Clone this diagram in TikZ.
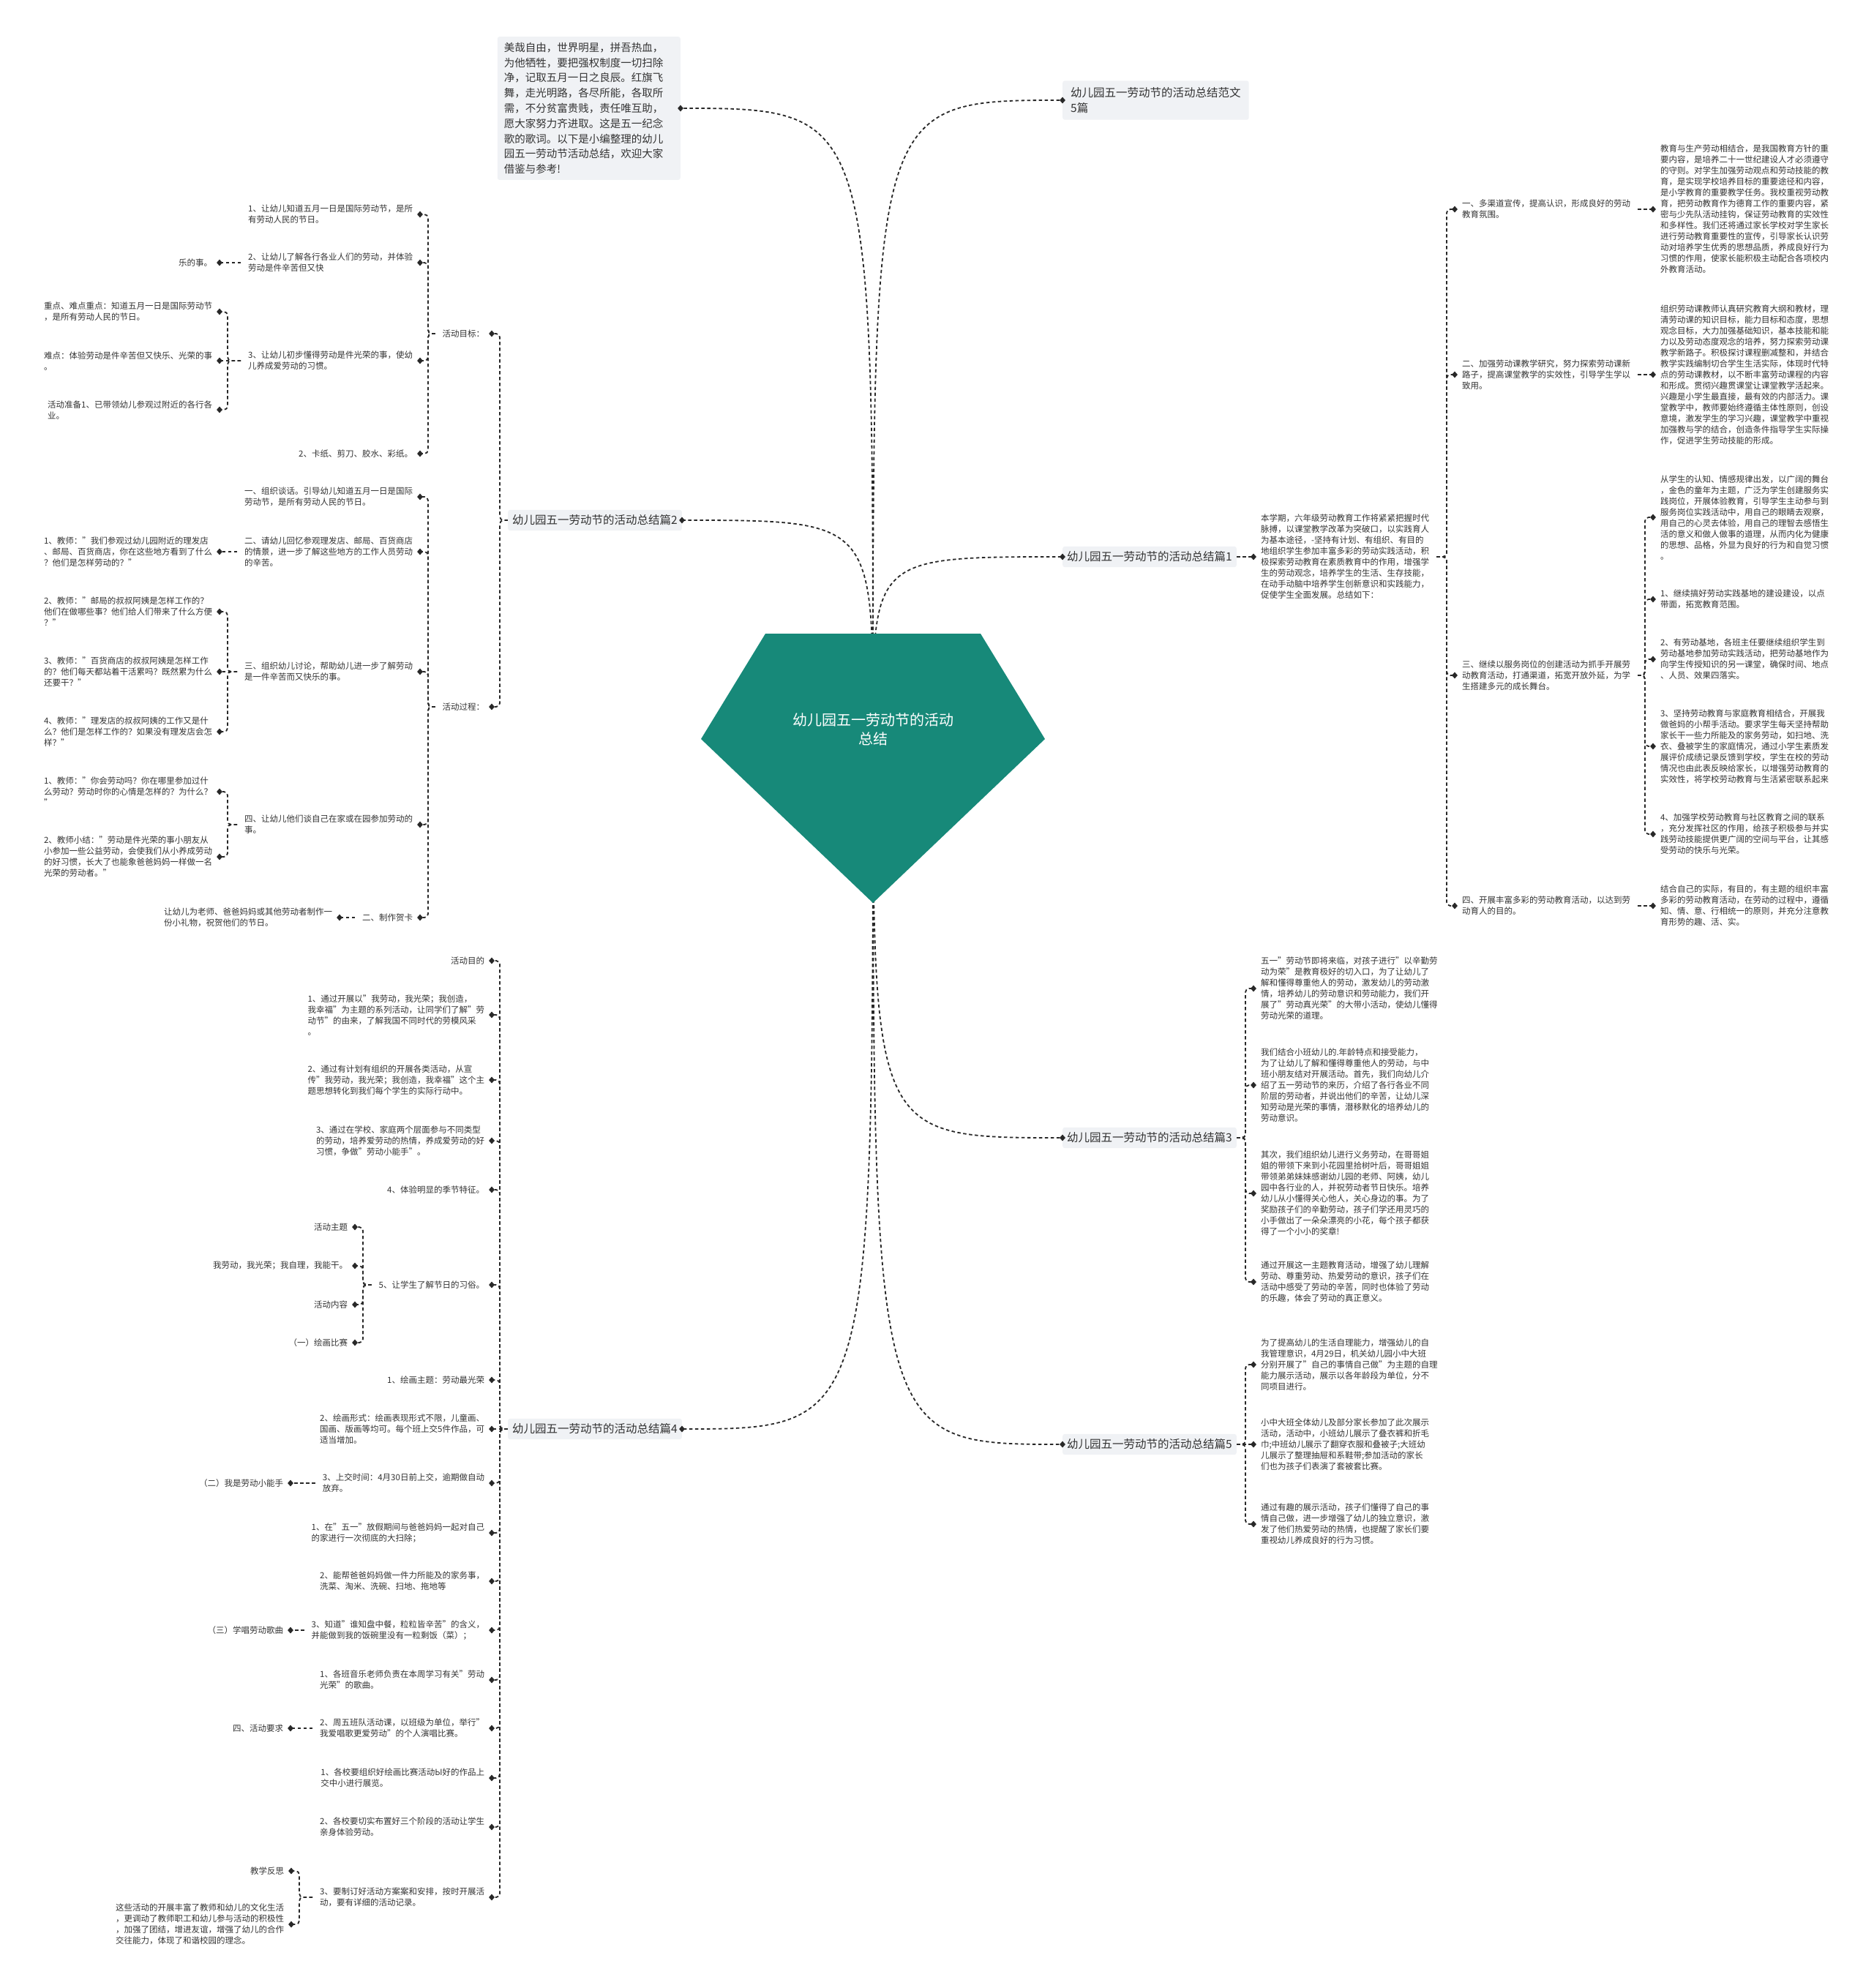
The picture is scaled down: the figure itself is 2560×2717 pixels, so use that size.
\documentclass[tikz,border=0pt]{standalone}
\usepackage{fontspec}
\setmainfont{Noto Sans CJK SC}
\usetikzlibrary{shapes.geometric,calc}
\definecolor{tc}{RGB}{51,51,51}
\definecolor{lc}{RGB}{40,40,40}
\definecolor{gem}{RGB}{23,137,121}
\definecolor{boxc}{RGB}{240,242,245}
\pgfdeclarelayer{bglayer}
\pgfdeclarelayer{linelayer}
\pgfdeclarelayer{gemlayer}
\pgfsetlayers{bglayer,linelayer,gemlayer,main}
\tikzset{
  txt/.style={font=\fontsize{11.5}{15}\selectfont, text=tc, inner sep=0pt, outer xsep=10pt, align=left},
  lt/.style={txt, anchor=east},
  rt/.style={txt, anchor=west},
  mainbox/.style={font=\fontsize{15.5}{21}\selectfont, text=tc, fill=boxc, rounded corners=3pt, inner xsep=6pt, inner ysep=7pt, align=left},
  conn/.style={draw=lc, line width=1.8pt, dash pattern=on 4.5pt off 3.5pt},
  sub/.style={conn, rounded corners=5pt},
  mkr/.style={diamond, fill=lc, inner sep=0pt, minimum width=8pt, minimum height=9pt}
}
\begin{document}
\begin{tikzpicture}[x=1pt,y=-1pt]
\begin{pgfonlayer}{bglayer}
\fill[white] (0,0) rectangle (2560,2717);
\end{pgfonlayer}
\useasboundingbox (0,0) rectangle (2560,2717);

% ---------- centre ----------
\node[font=\fontsize{20}{26}\selectfont, text=white, align=center] (ttl) at (1193,997) {幼儿园五一劳动节的活动\\总结};
\begin{pgfonlayer}{gemlayer}
\fill[gem] (1046,866) -- (1340,866) -- (1428,1010) -- (1193,1234) -- (958,1010) -- cycle;
\end{pgfonlayer}

% ---------- main branches ----------
\node[mainbox, anchor=east, font=\fontsize{14.5}{20.8}\selectfont, text width=232pt, inner xsep=9pt, inner ysep=8pt] (p00) at (930,148) {美哉自由，世界明星，拼吾热血，\\为他牺牲，要把强权制度一切扫除\\净，记取五月一日之良辰。红旗飞\\舞，走光明路，各尽所能，各取所\\需，不分贫富贵贱，责任唯互助，\\愿大家努力齐进取。这是五一纪念\\歌的歌词。以下是小编整理的幼儿\\园五一劳动节活动总结，欢迎大家\\借鉴与参考!};
\node[mainbox, anchor=west, inner xsep=11pt, inner ysep=9pt] (p0) at (1452,137) {幼儿园五一劳动节的活动总结范文\\5篇};
\node[mainbox, anchor=west] (p1) at (1452,761) {幼儿园五一劳动节的活动总结篇1};
\node[mainbox, anchor=east] (p2) at (932,711) {幼儿园五一劳动节的活动总结篇2};
\node[mainbox, anchor=west] (p3) at (1452,1555) {幼儿园五一劳动节的活动总结篇3};
\node[mainbox, anchor=east] (p4) at (932,1953) {幼儿园五一劳动节的活动总结篇4};
\node[mainbox, anchor=west] (p5) at (1452,1974) {幼儿园五一劳动节的活动总结篇5};

% ---------- 篇2 ----------
\node[lt] (g1) at (672,456) {活动目标：};
\node[lt] (g2) at (672,966) {活动过程：};
\node[lt] (a1) at (574,293) {1、让幼儿知道五月一日是国际劳动节，是所\\有劳动人民的节日。};
\node[lt] (a2) at (574,359) {2、让幼儿了解各行各业人们的劳动，并体验\\劳动是件辛苦但又快};
\node[lt] (a2c) at (300,359) {乐的事。};
\node[lt] (a3) at (574,493) {3、让幼儿初步懂得劳动是件光荣的事，使幼\\儿养成爱劳动的习惯。};
\node[lt] (a3a) at (300,426) {重点、难点重点：知道五月一日是国际劳动节\\，是所有劳动人民的节日。};
\node[lt] (a3b) at (300,493) {难点：体验劳动是件辛苦但又快乐、光荣的事\\。};
\node[lt] (a3c) at (300,560) {活动准备1、已带领幼儿参观过附近的各行各\\业。};
\node[lt] (a4) at (574,620) {2、卡纸、剪刀、胶水、彩纸。};
\node[lt] (b1) at (574,679) {一、组织谈话。引导幼儿知道五月一日是国际\\劳动节，是所有劳动人民的节日。};
\node[lt] (b2) at (574,754) {二、请幼儿回忆参观理发店、邮局、百货商店\\的情景，进一步了解这些地方的工作人员劳动\\的辛苦。};
\node[lt] (b2c) at (300,754) {1、教师："我们参观过幼儿园附近的理发店\\、邮局、百货商店，你在这些地方看到了什么\\？他们是怎样劳动的？"};
\node[lt] (b3) at (574,918) {三、组织幼儿讨论，帮助幼儿进一步了解劳动\\是一件辛苦而又快乐的事。};
\node[lt] (b3a) at (300,836) {2、教师："邮局的叔叔阿姨是怎样工作的？\\他们在做哪些事？他们给人们带来了什么方便\\？"};
\node[lt] (b3b) at (300,918) {3、教师："百货商店的叔叔阿姨是怎样工作\\的？他们每天都站着干活累吗？既然累为什么\\还要干？"};
\node[lt] (b3c) at (300,1000) {4、教师："理发店的叔叔阿姨的工作又是什\\么？他们是怎样工作的？如果没有理发店会怎\\样？"};
\node[lt] (b4) at (574,1127) {四、让幼儿他们谈自己在家或在园参加劳动的\\事。};
\node[lt] (b4a) at (300,1082) {1、教师："你会劳动吗？你在哪里参加过什\\么劳动？劳动时你的心情是怎样的？为什么？\\"};
\node[lt] (b4b) at (300,1171) {2、教师小结："劳动是件光荣的事小朋友从\\小参加一些公益劳动，会使我们从小养成劳动\\的好习惯，长大了也能象爸爸妈妈一样做一名\\光荣的劳动者。"};
\node[lt] (b5) at (574,1254) {二、制作贺卡};
\node[lt] (b5c) at (464,1254) {让幼儿为老师、爸爸妈妈或其他劳动者制作一\\份小礼物，祝贺他们的节日。};

% ---------- 篇4 ----------
\node[lt] (c0) at (672,1313) {活动目的};
\node[lt] (c1) at (672,1387) {1、通过开展以"我劳动，我光荣；我创造，\\我幸福"为主题的系列活动，让同学们了解"劳\\动节"的由来，了解我国不同时代的劳模风采\\。};
\node[lt] (c2) at (672,1476) {2、通过有计划有组织的开展各类活动，从宣\\传"我劳动，我光荣；我创造，我幸福"这个主\\题思想转化到我们每个学生的实际行动中。};
\node[lt] (c3) at (672,1559) {3、通过在学校、家庭两个层面参与不同类型\\的劳动，培养爱劳动的热情，养成爱劳动的好\\习惯，争做"劳动小能手"。};
\node[lt] (c4) at (672,1626) {4、体验明显的季节特征。};
\node[lt] (c5) at (672,1756) {5、让学生了解节日的习俗。};
\node[lt] (c5a) at (485,1677) {活动主题};
\node[lt] (c5b) at (485,1730) {我劳动，我光荣；我自理，我能干。};
\node[lt] (c5c) at (485,1783) {活动内容};
\node[lt] (c5d) at (485,1835) {（一）绘画比赛};
\node[lt] (c6) at (672,1886) {1、绘画主题：劳动最光荣};
\node[lt] (c7) at (672,1953) {2、绘画形式：绘画表现形式不限，儿童画、\\国画、版画等均可。每个班上交5件作品，可\\适当增加。};
\node[lt] (c8) at (672,2027) {3、上交时间：4月30日前上交，逾期做自动\\放弃。};
\node[lt] (c8c) at (397,2027) {（二）我是劳动小能手};
\node[lt] (c9) at (672,2095) {1、在"五一"放假期间与爸爸妈妈一起对自己\\的家进行一次彻底的大扫除；};
\node[lt] (c10) at (672,2161) {2、能帮爸爸妈妈做一件力所能及的家务事，\\洗菜、淘米、洗碗、扫地、拖地等};
\node[lt] (c11) at (672,2228) {3、知道"谁知盘中餐，粒粒皆辛苦"的含义，\\并能做到我的饭碗里没有一粒剩饭（菜）；};
\node[lt] (c11c) at (397,2228) {（三）学唱劳动歌曲};
\node[lt] (c12) at (672,2296) {1、各班音乐老师负责在本周学习有关"劳动\\光荣"的歌曲。};
\node[lt] (c13) at (672,2362) {2、周五班队活动课，以班级为单位，举行"\\我爱唱歌更爱劳动"的个人演唱比赛。};
\node[lt] (c13c) at (397,2362) {四、活动要求};
\node[lt] (c14) at (672,2430) {1、各校要组织好绘画比赛活动Ы好的作品上\\交中小进行展览。};
\node[lt] (c15) at (672,2497) {2、各校要切实布置好三个阶段的活动让学生\\亲身体验劳动。};
\node[lt] (c16) at (672,2593) {3、要制订好活动方案案和安排，按时开展活\\动，要有详细的活动记录。};
\node[lt] (c16a) at (398,2557) {教学反思};
\node[lt] (c16b) at (398,2630) {这些活动的开展丰富了教师和幼儿的文化生活\\，更调动了教师职工和幼儿参与活动的积极性\\，加强了团结，增进友谊，增强了幼儿的合作\\交往能力，体现了和谐校园的理念。};

% ---------- 篇1 ----------
\node[rt] (p1i) at (1713,761) {本学期，六年级劳动教育工作将紧紧把握时代\\脉搏，以课堂教学改革为突破口，以实践育人\\为基本途径，-坚持有计划、有组织、有目的\\地组织学生参加丰富多彩的劳动实践活动，积\\极探索劳动教育在素质教育中的作用，增强学\\生的劳动观念，培养学生的生活、生存技能，\\在动手动脑中培养学生创新意识和实践能力，\\促使学生全面发展。总结如下：};
\node[rt] (d1) at (1988,286) {一、多渠道宣传，提高认识，形成良好的劳动\\教育氛围。};
\node[rt] (d1c) at (2259,286) {教育与生产劳动相结合，是我国教育方针的重\\要内容，是培养二十一世纪建设人才必须遵守\\的守则。对学生加强劳动观点和劳动技能的教\\育，是实现学校培养目标的重要途径和内容，\\是小学教育的重要教学任务。我校重视劳动教\\育，把劳动教育作为德育工作的重要内容，紧\\密与少先队活动挂钩，保证劳动教育的实效性\\和多样性。我们还将通过家长学校对学生家长\\进行劳动教育重要性的宣传，引导家长认识劳\\动对培养学生优秀的思想品质，养成良好行为\\习惯的作用，使家长能积极主动配合各项校内\\外教育活动。};
\node[rt] (d2) at (1988,512) {二、加强劳动课教学研究，努力探索劳动课新\\路子，提高课堂教学的实效性，引导学生学以\\致用。};
\node[rt] (d2c) at (2259,512) {组织劳动课教师认真研究教育大纲和教材，理\\清劳动课的知识目标，能力目标和态度，思想\\观念目标，大力加强基础知识，基本技能和能\\力以及劳动态度观念的培养，努力探索劳动课\\教学新路子。积极探讨课程删减整和，并结合\\教学实践编制切合学生生活实际，体现时代特\\点的劳动课教材，以不断丰富劳动课程的内容\\和形成。贯彻兴趣贯课堂让课堂教学活起来。\\兴趣是小学生最直接，最有效的内部活力。课\\堂教学中，教师要始终遵循主体性原则，创设\\意境，激发学生的学习兴趣，课堂教学中重视\\加强教与学的结合，创造条件指导学生实际操\\作，促进学生劳动技能的形成。};
\node[rt] (d3) at (1988,923) {三、继续以服务岗位的创建活动为抓手开展劳\\动教育活动，打通渠道，拓宽开放外延，为学\\生搭建多元的成长舞台。};
\node[rt] (d3a) at (2259,707) {从学生的认知、情感规律出发，以广阔的舞台\\，金色的童年为主题，广泛为学生创建服务实\\践岗位，开展体验教育，引导学生主动参与到\\服务岗位实践活动中，用自己的眼睛去观察，\\用自己的心灵去体验，用自己的理智去感悟生\\活的意义和做人做事的道理，从而内化为健康\\的思想、品格，外显为良好的行为和自觉习惯\\。};
\node[rt] (d3b) at (2259,819) {1、继续搞好劳动实践基地的建设建设，以点\\带面，拓宽教育范围。};
\node[rt] (d3c) at (2259,901) {2、有劳动基地，各班主任要继续组织学生到\\劳动基地参加劳动实践活动，把劳动基地作为\\向学生传授知识的另一课堂，确保时间、地点\\、人员、效果四落实。};
\node[rt] (d3d) at (2259,1020) {3、坚持劳动教育与家庭教育相结合，开展我\\做爸妈的小帮手活动。要求学生每天坚持帮助\\家长干一些力所能及的家务劳动，如扫地、洗\\衣、叠被学生的家庭情况，通过小学生素质发\\展评价成绩记录反馈到学校，学生在校的劳动\\情况也由此表反映给家长，以增强劳动教育的\\实效性，将学校劳动教育与生活紧密联系起来};
\node[rt] (d3e) at (2259,1140) {4、加强学校劳动教育与社区教育之间的联系\\，充分发挥社区的作用，给孩子积极参与并实\\践劳动技能提供更广阔的空间与平台，让其感\\受劳动的快乐与光荣。};
\node[rt] (d4) at (1988,1238) {四、开展丰富多彩的劳动教育活动，以达到劳\\动育人的目的。};
\node[rt] (d4c) at (2259,1238) {结合自己的实际，有目的，有主题的组织丰富\\多彩的劳动教育活动，在劳动的过程中，遵循\\知、情、意、行相统一的原则，并充分注意教\\育形势的趣、活、实。};

% ---------- 篇3 ----------
\node[rt] (e1) at (1713,1351) {五一"劳动节即将来临，对孩子进行"以辛勤劳\\动为荣"是教育极好的切入口，为了让幼儿了\\解和懂得尊重他人的劳动，激发幼儿的劳动激\\情，培养幼儿的劳动意识和劳动能力，我们开\\展了"劳动真光荣"的大带小活动，使幼儿懂得\\劳动光荣的道理。};
\node[rt] (e2) at (1713,1483) {我们结合小班幼儿的.年龄特点和接受能力，\\为了让幼儿了解和懂得尊重他人的劳动，与中\\班小朋友结对开展活动。首先，我们向幼儿介\\绍了五一劳动节的来历，介绍了各行各业不同\\阶层的劳动者，并说出他们的辛苦，让幼儿深\\知劳动是光荣的事情，潜移默化的培养幼儿的\\劳动意识。};
\node[rt] (e3) at (1713,1631) {其次，我们组织幼儿进行义务劳动，在哥哥姐\\姐的带领下来到小花园里拾树叶后，哥哥姐姐\\带领弟弟妹妹感谢幼儿园的老师、阿姨，幼儿\\园中各行业的人，并祝劳动者节日快乐。培养\\幼儿从小懂得关心他人，关心身边的事。为了\\奖励孩子们的辛勤劳动，孩子们学还用灵巧的\\小手做出了一朵朵漂亮的小花，每个孩子都获\\得了一个小小的奖章!};
\node[rt] (e4) at (1713,1752) {通过开展这一主题教育活动，增强了幼儿理解\\劳动、尊重劳动、热爱劳动的意识，孩子们在\\活动中感受了劳动的辛苦，同时也体验了劳动\\的乐趣，体会了劳动的真正意义。};

% ---------- 篇5 ----------
\node[rt] (f1) at (1713,1865) {为了提高幼儿的生活自理能力，增强幼儿的自\\我管理意识，4月29日，机关幼儿园小中大班\\分别开展了"自己的事情自己做"为主题的自理\\能力展示活动，展示以各年龄段为单位，分不\\同项目进行。};
\node[rt] (f2) at (1713,1974) {小中大班全体幼儿及部分家长参加了此次展示\\活动，活动中，小班幼儿展示了叠衣裤和折毛\\巾;中班幼儿展示了翻穿衣服和叠被子;大班幼\\儿展示了整理抽屉和系鞋带;参加活动的家长\\们也为孩子们表演了套被套比赛。};
\node[rt] (f3) at (1713,2083) {通过有趣的展示活动，孩子们懂得了自己的事\\情自己做，进一步增强了幼儿的独立意识，激\\发了他们热爱劳动的热情，也提醒了家长们要\\重视幼儿养成良好的行为习惯。};

% ---------- connectors ----------
\begin{pgfonlayer}{linelayer}
\foreach \nn/\an in {p00/east,p2/east,p4/east,p0/west,p1/west,p3/west,p5/west}
  \draw[conn] (ttl.center) .. controls (ttl.center |- \nn.\an) and (ttl.center |- \nn.\an) .. (\nn.\an);
\foreach \pp/\cc in {p2/g1,p2/g2,g1/a1,g1/a2,g1/a3,g1/a4,a3/a3a,a3/a3c,g2/b1,g2/b2,g2/b3,g2/b4,g2/b5,b3/b3a,b3/b3c,b4/b4a,b4/b4b,p4/c0,p4/c1,p4/c2,p4/c3,p4/c4,p4/c5,p4/c6,p4/c8,p4/c9,p4/c10,p4/c11,p4/c12,p4/c13,p4/c14,p4/c15,p4/c16,c5/c5a,c5/c5b,c5/c5c,c5/c5d,c16/c16a,c16/c16b}
  \draw[sub] (\pp.west) -| ([xshift=11pt]\cc.east) -- (\cc.east);
\foreach \pp/\cc in {a2/a2c,a3/a3b,b2/b2c,b3/b3b,b5/b5c,p4/c7,c8/c8c,c11/c11c,c13/c13c}
  \draw[conn] (\pp.west) -- (\cc.east);
\foreach \pp/\cc in {p1i/d1,p1i/d2,p1i/d3,p1i/d4,d3/d3a,d3/d3b,d3/d3c,d3/d3d,d3/d3e,p3/e1,p3/e2,p3/e3,p3/e4,p5/f1,p5/f3}
  \draw[sub] (\pp.east) -| ([xshift=-11pt]\cc.west) -- (\cc.west);
\foreach \pp/\cc in {p1/p1i,d1/d1c,d2/d2c,d4/d4c,p5/f2}
  \draw[conn] (\pp.east) -- (\cc.west);
\end{pgfonlayer}

% ---------- markers ----------
\foreach \nn in {p00,p2,p4,g1,g2,a1,a2,a2c,a3,a3a,a3b,a3c,a4,b1,b2,b2c,b3,b3a,b3b,b3c,b4,b4a,b4b,b5,b5c,c0,c1,c2,c3,c4,c5,c5a,c5b,c5c,c5d,c6,c7,c8,c8c,c9,c10,c11,c11c,c12,c13,c13c,c14,c15,c16,c16a,c16b}
  \node[mkr] (mk\nn) at (\nn.east) {};
\foreach \nn in {p0,p1,p3,p5,p1i,d1,d1c,d2,d2c,d3,d3a,d3b,d3c,d3d,d3e,d4,d4c,e1,e2,e3,e4,f1,f2,f3}
  \node[mkr] (mk\nn) at (\nn.west) {};
\end{tikzpicture}
\end{document}
